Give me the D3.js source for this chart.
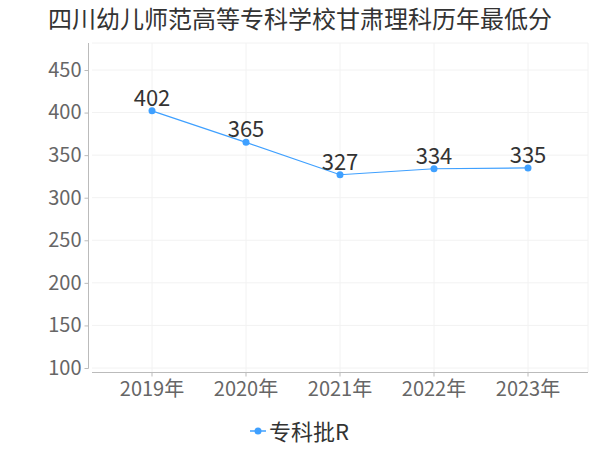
<!DOCTYPE html>
<html><head><meta charset="utf-8">
<script src="https://cdn.jsdelivr.net/npm/d3@7/dist/d3.min.js"></script>
<style>body{margin:0;background:#fff;font-family:"Noto Sans CJK SC","Noto Sans",sans-serif;}</style>
</head><body>
<svg id="c" width="600" height="450"></svg>
<script>
const title = "四川幼儿师范高等专科学校甘肃理科历年最低分";
const categories = ["2019年","2020年","2021年","2022年","2023年"];
const seriesName = "专科批R";
const values = [402, 365, 327, 334, 335];
const yTicks = [100,150,200,250,300,350,400,450];

const svg = d3.select("#c");
const font = '"Noto Sans CJK SC","Noto Sans",sans-serif';
const color = "#3fa0ff";

const x = d3.scaleBand().domain(categories).range([105, 575]);
const y = d3.scaleLinear().domain([100, 450]).range([368, 70]);
const plotTop = 43, plotLeft = 92, plotRight = 588, xAxisY = 372;

svg.append("text").attr("x", 300).attr("y", 28).attr("text-anchor","middle")
  .attr("font-family", font).attr("font-size", 24).attr("fill", "#333").text(title);

// gridlines
const g = svg.append("g");
g.selectAll(".hg").data(yTicks).join("line")
  .attr("x1", plotLeft).attr("x2", plotRight)
  .attr("y1", d => y(d)).attr("y2", d => y(d))
  .attr("stroke", "#f2f2f2").attr("stroke-width", 1);
g.selectAll(".vg").data(categories).join("line")
  .attr("x1", d => x(d) + x.bandwidth()/2).attr("x2", d => x(d) + x.bandwidth()/2)
  .attr("y1", plotTop).attr("y2", xAxisY)
  .attr("stroke", "#f2f2f2").attr("stroke-width", 1);
g.append("line").attr("x1", plotRight).attr("x2", plotRight).attr("y1", plotTop).attr("y2", xAxisY)
  .attr("stroke", "#f2f2f2");
g.append("line").attr("x1", plotLeft).attr("x2", plotRight).attr("y1", plotTop).attr("y2", plotTop)
  .attr("stroke", "#f2f2f2");

// y axis
const yAxis = svg.append("g").attr("transform", "translate(88.5,0)")
  .call(d3.axisLeft(y).tickValues(yTicks).tickSize(4).tickSizeOuter(0));
yAxis.select(".domain").remove();
yAxis.append("line").attr("x1",0).attr("x2",0).attr("y1",plotTop).attr("y2",y(100)+0.5).attr("stroke","#bbb");
yAxis.selectAll(".tick line").attr("stroke","#bbb");
yAxis.selectAll(".tick text").attr("font-family", font).attr("font-size", 20).attr("fill","#666").attr("x",-7);

// x axis
const xAxis = svg.append("g").attr("transform", `translate(0,${xAxisY}.5)`)
  .call(d3.axisBottom(x).tickSize(4).tickSizeOuter(0));
xAxis.select(".domain").remove();
xAxis.append("line").attr("x1",plotLeft).attr("x2",plotRight).attr("y1",0).attr("y2",0).attr("stroke","#bbb");
xAxis.selectAll(".tick line").attr("stroke","#bbb");
xAxis.selectAll(".tick text").attr("font-family", font).attr("font-size", 20).attr("fill","#666").attr("y",9);

// line
const cx = (d,i) => x(categories[i]) + x.bandwidth()/2;
const line = d3.line().x((d,i) => cx(d,i)).y(d => y(d));
svg.append("path").datum(values).attr("d", line).attr("fill","none").attr("stroke",color).attr("stroke-width",1.2);
svg.selectAll(".pt").data(values).join("circle")
  .attr("cx", cx).attr("cy", d => y(d)).attr("r", 3.5).attr("fill", color);
svg.selectAll(".lbl").data(values).join("text")
  .attr("x", cx).attr("y", d => y(d) - 5).attr("text-anchor","middle")
  .attr("font-family", font).attr("font-size", 22).attr("fill","#333").text(d => d);

// legend
const lg = svg.append("g");
lg.append("line").attr("x1",250).attr("x2",266).attr("y1",431).attr("y2",431).attr("stroke",color).attr("stroke-width",1.5);
lg.append("circle").attr("cx",258).attr("cy",431).attr("r",3.5).attr("fill",color);
lg.append("text").attr("x",269).attr("y",440).attr("font-family",font).attr("font-size",22).attr("fill","#333").text(seriesName);
</script>
</body></html>
